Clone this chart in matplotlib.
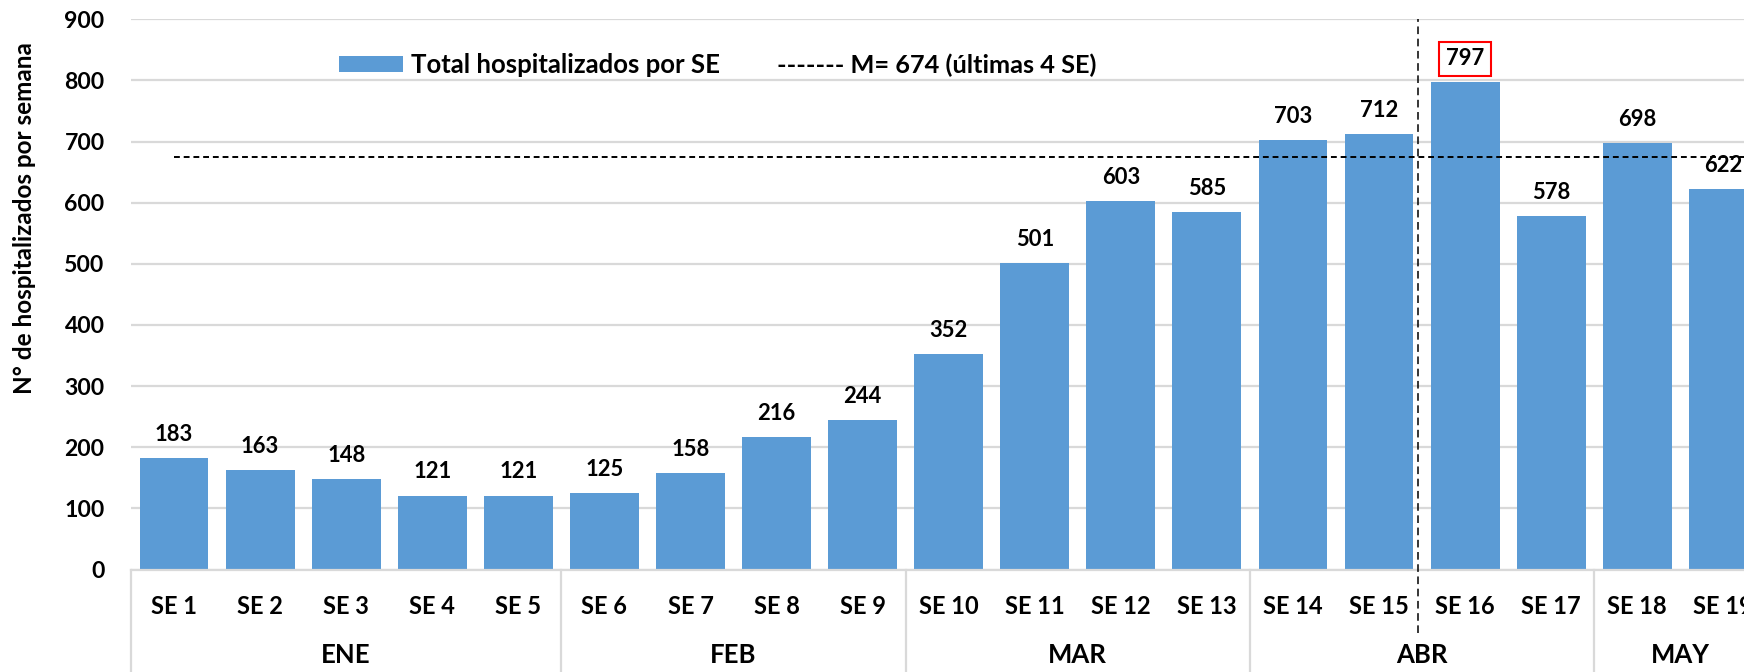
import numpy as np
import matplotlib.pyplot as plt
from matplotlib.transforms import blended_transform_factory

plt.rcParams['font.family'] = ['Lato', 'DejaVu Sans']
plt.rcParams['font.weight'] = 'bold'

# data
weeks = ["SE 1", "SE 2", "SE 3", "SE 4", "SE 5", "SE 6", "SE 7", "SE 8", "SE 9",
         "SE 10", "SE 11", "SE 12", "SE 13", "SE 14", "SE 15", "SE 16", "SE 17",
         "SE 18", "SE 19"]
hospitalizados = [183, 163, 148, 121, 121, 125, 158, 216, 244,
                  352, 501, 603, 585, 703, 712, 797, 578, 698, 622]
months = ["ENE", "FEB", "MAR", "ABR", "MAY"]
weeks_per_month = [5, 4, 4, 4, 2]
mean_last4 = 674
peak_week = "SE 16"
y_ticks = [0, 100, 200, 300, 400, 500, 600, 700, 800, 900]

BLUE = "#5B9BD5"
GRID = "#D9D9D9"

fig = plt.figure(figsize=(17.44, 6.72), dpi=100)
ax = fig.add_axes([131 / 1744, 1 - 569.5 / 672, 1 - 131 / 1744, 550.2 / 672])

x = np.arange(len(weeks))
bars = ax.bar(x, hospitalizados, width=0.8, color=BLUE, zorder=2,
              label="Total hospitalizados por SE")

ax.set_xlim(-0.5, 18.24)
ax.set_ylim(0, 900)
ax.set_yticks(y_ticks)
ax.set_yticklabels([str(v) for v in y_ticks], fontsize=16.6, fontweight='bold')
ax.set_xticks(x)
ax.set_xticklabels(weeks, fontsize=17, fontweight='bold')
ax.tick_params(axis='both', length=0)
ax.tick_params(axis='y', pad=19)
ax.tick_params(axis='x', pad=18.5)

ax.grid(axis='y', color=GRID, linewidth=1.6, zorder=0)
for s in ["top", "right", "left"]:
    ax.spines[s].set_visible(False)
ax.spines["bottom"].set_color(GRID)
ax.spines["bottom"].set_linewidth(1.6)

# data labels
for i, v in enumerate(hospitalizados):
    box = None
    if weeks[i] == peak_week:
        box = dict(boxstyle="square,pad=0.3", fc="white", ec="red", lw=1.5)
    ax.annotate(str(v), (i, v), xytext=(0, 17), textcoords="offset points",
                ha="center", va="center", fontsize=15.8, fontweight='bold',
                bbox=box, annotation_clip=False)

# mean of last 4 weeks
ax.axhline(mean_last4, xmin=0.5 / 18.74, xmax=1, color="black",
           linestyle=(0, (3, 2)), linewidth=1.4, zorder=3)

# month groups under the week labels
trans = blended_transform_factory(ax.transData, ax.transAxes)
start = -0.5
for m, n in zip(months, weeks_per_month):
    ax.plot([start, start], [0, -0.2], transform=trans, color=GRID,
            linewidth=1.6, clip_on=False)
    ax.text(start + n / 2, -0.155, m, transform=trans, ha="center",
            va="center", fontsize=18.5, fontweight='bold')
    start += n

# vertical separator between SE 15 and SE 16
ax.plot([14.45, 14.45], [-0.115, 1.0], transform=trans, color="black",
        linestyle=(0, (5, 3)), linewidth=1.1, clip_on=False, zorder=4)

ax.legend(handles=[bars], loc="center left", frameon=False,
          bbox_to_anchor=((339 - 131) / 1613, (569.5 - 65) / 550.2),
          prop=dict(size=18.5, weight='bold'), handlelength=2.5,
          handleheight=0.62, handletextpad=0.3, borderaxespad=0,
          borderpad=0)
ax.text((777 - 131) / 1613, (569.5 - 65) / 550.2,
        "------- M= %d (últimas 4 SE)" % mean_last4, transform=ax.transAxes,
        ha="left", va="center", fontsize=18.3, fontweight='bold')

fig.text(25 / 1744, 1 - 218 / 672, "N° de hospitalizados por semana",
         rotation=90, ha="center", va="center", fontsize=17.5,
         fontweight='bold')

fig.savefig("out.png", dpi=100)
